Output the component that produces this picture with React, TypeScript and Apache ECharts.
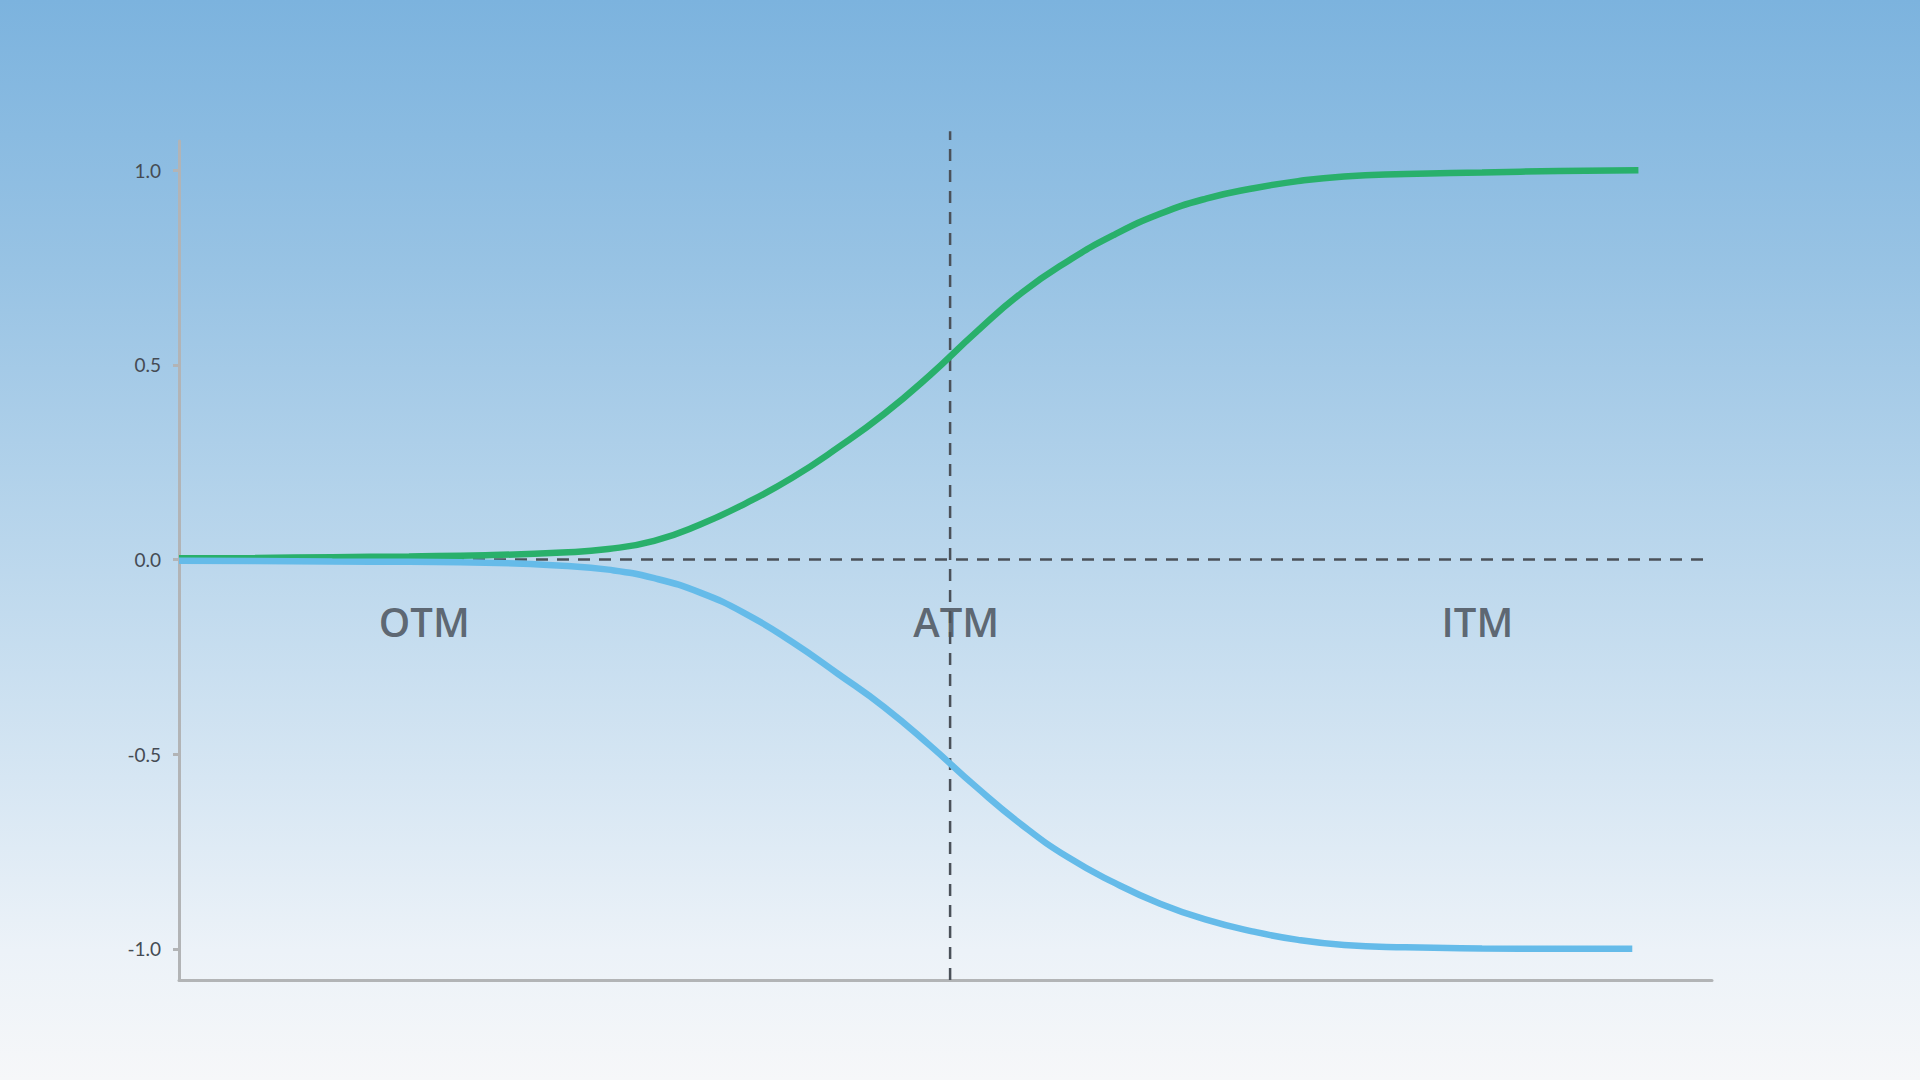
import React, { useEffect, useRef } from "react";
import * as echarts from "echarts";

// strike position (0..100), ATM sits near the middle
const callX = [0, 5, 10, 15, 20, 25, 28, 31, 34, 37, 40, 43, 46, 49, 52, 55, 58, 61, 64, 67, 70, 73, 76, 80, 85, 90, 95.2];
const callDelta = [0.003, 0.004, 0.006, 0.008, 0.011, 0.018, 0.027, 0.048, 0.09, 0.145, 0.21, 0.288, 0.374, 0.474, 0.584, 0.686, 0.767, 0.834, 0.888, 0.927, 0.953, 0.972, 0.984, 0.99, 0.994, 0.998, 1.0];

const putX = [0, 5, 10, 15, 20, 25, 28, 31, 34, 37, 40, 43, 46, 49, 52, 55, 58, 61, 64, 67, 70, 73, 76, 80, 85, 90, 94.8];
const putDelta = [-0.003, -0.004, -0.005, -0.006, -0.008, -0.016, -0.026, -0.048, -0.085, -0.14, -0.212, -0.294, -0.379, -0.478, -0.584, -0.682, -0.765, -0.83, -0.884, -0.925, -0.955, -0.977, -0.99, -0.996, -0.999, -1.0, -1.0];

const yTicks = [-1, -0.5, 0, 0.5, 1];

const zoneNames = ["OTM", "ATM", "ITM"];
const zoneX = [16, 50.7, 84.7];
const zoneY = -0.159;

const atmStrike = 50.3;
const zeroLineEnd = 99.5;
const atmLineTop = 1.1;

const X_MIN = 0;
const X_MAX = 100;
const Y_MIN = -1.08;
const Y_MAX = 1.075;

const App: React.FC = () => {
  const chartRef = useRef<HTMLDivElement>(null);

  useEffect(() => {
    const chart = echarts.init(chartRef.current!, null, { renderer: "svg" });

    const dashed = {
      color: "#4b5159",
      width: 2.5,
      type: [12, 9] as number[],
    };

    chart.setOption({
      animation: false,
      grid: {
        left: 179,
        right: 208,
        top: 141,
        bottom: 100,
        outerBoundsMode: "none",
      },
      xAxis: {
        type: "value",
        min: X_MIN,
        max: X_MAX,
        axisLine: { show: true, onZero: false, lineStyle: { color: "#b2b4b6", width: 3 } },
        axisTick: { show: false },
        axisLabel: { show: false },
        splitLine: { show: false },
      },
      yAxis: {
        type: "value",
        min: Y_MIN,
        max: Y_MAX,
        axisLine: { show: true, onZero: false, lineStyle: { color: "#b2b4b6", width: 3 } },
        axisTick: {
          show: true,
          customValues: yTicks,
          length: 6,
          lineStyle: { color: "#b2b4b6", width: 3 },
        },
        axisLabel: {
          customValues: yTicks,
          formatter: (v: number) => v.toFixed(1),
          color: "#454b54",
          fontSize: 19,
          fontFamily: "Lato",
          margin: 18,
        },
        splitLine: { show: false },
      },
      series: [
        {
          type: "line",
          data: [
            [0, 0],
            [zeroLineEnd, 0],
          ],
          symbol: "none",
          lineStyle: dashed,
          silent: true,
        },
        {
          type: "line",
          data: [
            [atmStrike, Y_MIN],
            [atmStrike, atmLineTop],
          ],
          symbol: "none",
          clip: false,
          lineStyle: dashed,
          silent: true,
        },
        {
          name: "Call delta",
          type: "line",
          data: callX.map((x, i) => [x, callDelta[i]]),
          symbol: "none",
          smooth: 0.5,
          lineStyle: { color: "#29b06b", width: 6.5 },
        },
        {
          name: "Put delta",
          type: "line",
          data: putX.map((x, i) => [x, putDelta[i]]),
          symbol: "none",
          smooth: 0.5,
          lineStyle: { color: "#65bbe9", width: 6.5 },
        },
        {
          type: "scatter",
          data: zoneNames.map((n, i) => ({ name: n, value: [zoneX[i], zoneY] })),
          symbolSize: 1,
          itemStyle: { color: "transparent" },
          label: {
            show: true,
            position: "inside",
            formatter: "{b}",
            fontFamily: "Open Sans",
            fontWeight: 600,
            fontSize: 40,
            color: "#424851",
          },
          silent: true,
        },
      ],
    });

    return () => {
      chart.dispose();
    };
  }, []);

  return (
    <div
      style={{
        position: "fixed",
        left: 0,
        top: 0,
        width: 1920,
        height: 1080,
        background:
          "linear-gradient(180deg, #7cb3de 0%, #98c3e4 25%, #b9d6ec 50%, #d6e6f3 72%, #ecf2f8 88%, #f6f7f9 100%)",
      }}
    >
      <div ref={chartRef} style={{ width: 1920, height: 1080 }} />
    </div>
  );
};

export default App;
